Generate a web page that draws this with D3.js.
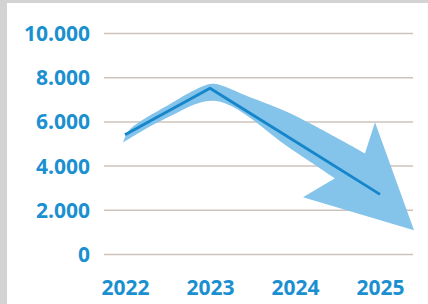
<!DOCTYPE html>
<html>
<head>
<meta charset="utf-8">
<script src="https://cdn.jsdelivr.net/npm/d3@7"></script>
<style>
  html, body { margin: 0; padding: 0; background: #d3d3d3; }
  svg { display: block; }
</style>
</head>
<body>
<div class="chart"></div>
<script>
const width = 428;
const height = 304;

const years = ["2022", "2023", "2024", "2025"];
const values = [5400, 7500, 5100, 2700];
const yTicks = [0, 2000, 4000, 6000, 8000, 10000];
const yTickLabels = ["0", "2.000", "4.000", "6.000", "8.000", "10.000"];

const blue = "#1b90d0";
const lineBlue = "#1686ca";
const bandBlue = "#84c3ea";

const svg = d3.select(".chart")
   .append("svg")
   .attr("width", width)
   .attr("height", height);

// white panel, the gray shows as a frame on the left and top
svg.append("rect")
   .attr("x", 7).attr("y", 3)
   .attr("width", width - 7).attr("height", height - 3)
   .attr("fill", "#ffffff");

const x = d3.scalePoint().domain(years).range([125, 380]);
const y = d3.scaleLinear().domain([0, 10000]).range([254, 33]);

// gridlines + y labels
const yAxis = d3.axisLeft(y)
   .tickValues(yTicks)
   .tickSize(-(413 - 104))
   .tickPadding(14)
   .tickFormat((d, i) => yTickLabels[i]);

const gy = svg.append("g")
   .attr("transform", "translate(104,0)")
   .call(yAxis);
gy.select(".domain").remove();
gy.selectAll(".tick line")
   .attr("stroke", "#cdc3bc")
   .attr("stroke-width", 1.5);
gy.selectAll(".tick text")
   .attr("fill", blue)
   .attr("font-family", "'Open Sans', sans-serif")
   .attr("font-weight", 700)
   .attr("font-size", 21)
   .attr("dy", "0.36em");

// x labels
const xAxis = d3.axisBottom(x).tickSize(0).tickPadding(0);
const gx = svg.append("g")
   .attr("transform", "translate(0,275)")
   .call(xAxis);
gx.select(".domain").remove();
gx.selectAll(".tick text")
   .attr("fill", blue)
   .attr("font-family", "'Open Sans', sans-serif")
   .attr("font-weight", 700)
   .attr("font-size", 21)
   .attr("dy", "0.95em");

// points of the data line in pixels
const pts = years.map((d, i) => [x(d), y(values[i])]);
const lineAt = d3.scaleLinear().domain(pts.map(p => p[0])).range(pts.map(p => p[1]));
const p0 = pts[0], p1 = pts[1], p3 = pts[pts.length - 1];

// wide arrow behind the line, hung on the data line
const arrow = [
   [p0[0] - 2, p0[1] + 8],
   [p0[0] + 4, lineAt(p0[0] + 4) - 2],
   [p0[0] + 45, lineAt(p0[0] + 45) - 6],
   [p1[0] - 8, lineAt(p1[0] - 8) - 6],
   [p1[0] + 4, lineAt(p1[0] + 4) - 7],
   [p1[0] + 40, lineAt(p1[0] + 40) - 16],
   [p1[0] + 80, lineAt(p1[0] + 80) - 25],
   [p3[0] - 15, p3[1] - 41]
];
const head = [
   [p3[0] - 5, p3[1] - 72],
   [p3[0] + 34, p3[1] + 36],
   [p3[0] - 77, p3[1] + 3],
   [p3[0] - 45, p3[1] - 16]
];
const lower = [
   [p1[0] + 80, lineAt(p1[0] + 80) + 10],
   [p1[0] + 6, lineAt(p1[0] + 6) + 9],
   [p0[0] + 40, lineAt(p0[0] + 40) + 6]
];

const edge = d3.line().curve(d3.curveCatmullRom.alpha(0.5));
const straight = d3.line();
const pathD = edge(arrow) +
   straight([arrow[arrow.length - 1]].concat(head)).replace(/^M[^L]*/, "") +
   edge([head[head.length - 1]].concat(lower, [arrow[0]])).replace(/^M[^C]*/, "") + "Z";

svg.append("path")
   .attr("d", pathD)
   .attr("fill", bandBlue);

svg.append("path")
   .datum(pts)
   .attr("d", d3.line())
   .attr("fill", "none")
   .attr("stroke", lineBlue)
   .attr("stroke-width", 2.8)
   .attr("stroke-linejoin", "round");
</script>
</body>
</html>
